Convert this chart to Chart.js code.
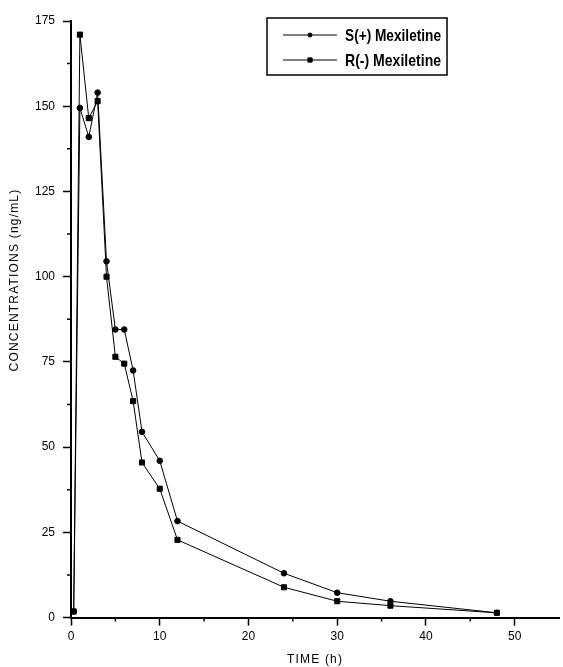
<!DOCTYPE html>
<html>
<head>
<script src="https://cdn.jsdelivr.net/npm/chart.js@4.4.1/dist/chart.umd.min.js"></script>
<style>
  body { margin: 0; background: #fff; }
</style>
</head>
<body>
<canvas id="chart" width="563" height="667"></canvas>
<script>
// sampling times (h)
const time = [0.3, 1, 2, 3, 4, 5, 6, 7, 8, 10, 12, 24, 30, 36, 48];
// S(+) and R(-) concentrations (ng/mL)
const sPlus = [1.8, 149.5, 141, 154, 104.5, 84.5, 84.5, 72.5, 54.5, 46, 28.3, 13, 7.3, 4.8, 1.4];
const rMinus = [1.8, 171, 146.5, 151.5, 100, 76.5, 74.5, 63.5, 45.5, 37.8, 22.8, 8.9, 4.8, 3.5, 1.4];
const seriesNames = ['S(+) Mexiletine', 'R(-) Mexiletine'];
const xLabelTicks = [0, 10, 20, 30, 40, 50];
const yLabelTicks = [0, 25, 50, 75, 100, 125, 150, 175];
const xTitle = 'TIME (h)';
const yTitle = 'CONCENTRATIONS (ng/mL)';

const toPoints = vals => vals.map((v, i) => ({ x: time[i], y: v }));

// short minor ticks between the labelled ones
const minorTicks = {
  id: 'minorTicks',
  afterDraw(chart) {
    const ctx = chart.ctx;
    const xs = chart.scales.x, ys = chart.scales.y;
    ctx.save();
    ctx.strokeStyle = '#000';
    ctx.lineWidth = 1.5;
    ctx.beginPath();
    for (let v = 5; v < xs.max; v += 10) {
      const px = xs.getPixelForValue(v);
      ctx.moveTo(px, ys.bottom);
      ctx.lineTo(px, ys.bottom + 4);
    }
    for (let v = 12.5; v < ys.max; v += 25) {
      const py = ys.getPixelForValue(v);
      ctx.moveTo(xs.left, py);
      ctx.lineTo(xs.left - 4, py);
    }
    ctx.stroke();
    ctx.restore();
  }
};

// letter-spaced axis titles (the scan has wide spacing)
const axisTitles = {
  id: 'axisTitles',
  afterDraw(chart) {
    const ctx = chart.ctx;
    const a = chart.chartArea;
    ctx.save();
    ctx.fillStyle = '#000';
    ctx.font = '12px "Liberation Sans", Arial, sans-serif';
    ctx.letterSpacing = '1.2px';
    ctx.textAlign = 'center';
    ctx.textBaseline = 'middle';
    ctx.fillText(xTitle, (a.left + a.right) / 2, 660);
    ctx.translate(15, 280);
    ctx.rotate(-Math.PI / 2);
    ctx.fillText(yTitle, 0, 0);
    ctx.restore();
  }
};

// boxed legend inside the plot, like the original figure
const boxLegend = {
  id: 'boxLegend',
  afterDraw(chart) {
    const ctx = chart.ctx;
    const a = chart.chartArea;
    const x = a.left + 196, y = a.top - 3, w = 180, h = 57;
    ctx.save();
    ctx.strokeStyle = '#000';
    ctx.lineWidth = 1.5;
    ctx.strokeRect(x, y, w, h);
    chart.data.datasets.forEach((ds, i) => {
      const cy = y + 17 + i * 25;
      ctx.lineWidth = 1;
      ctx.beginPath();
      ctx.moveTo(x + 16, cy);
      ctx.lineTo(x + 70, cy);
      ctx.stroke();
      ctx.fillStyle = '#000';
      Chart.helpers.drawPoint(ctx, { pointStyle: ds.pointStyle, radius: ds.pointStyle === 'rect' ? 3 : 2, borderWidth: 1 }, x + 43, cy);
      ctx.font = 'bold 17px "Liberation Sans", Arial, sans-serif';
      ctx.textBaseline = 'middle';
      const tw = ctx.measureText(ds.label).width;
      ctx.save();
      ctx.translate(x + 78, cy + 1);
      ctx.scale(96 / tw, 1);
      ctx.fillText(ds.label, 0, 0);
      ctx.restore();
    });
    ctx.restore();
  }
};

const tickFont = { family: '"Liberation Sans", Arial, sans-serif', size: 12 };

new Chart(document.getElementById('chart'), {
  type: 'scatter',
  data: {
    datasets: [
      {
        label: seriesNames[0],
        data: toPoints(sPlus),
        showLine: true,
        borderColor: '#000',
        backgroundColor: '#000',
        borderWidth: 1,
        pointStyle: 'circle',
        pointRadius: 2.8
      },
      {
        label: seriesNames[1],
        data: toPoints(rMinus),
        showLine: true,
        borderColor: '#000',
        backgroundColor: '#000',
        borderWidth: 1,
        pointStyle: 'rect',
        pointRadius: 3.6
      }
    ]
  },
  options: {
    responsive: false,
    animation: false,
    layout: { autoPadding: false, padding: { top: 21, right: 1, left: 27, bottom: 19 } },
    plugins: {
      legend: { display: false },
      tooltip: { enabled: false }
    },
    scales: {
      x: {
        type: 'linear',
        min: 0,
        max: 55,
        ticks: {
          stepSize: 5,
          color: '#000',
          font: tickFont,
          padding: 4,
          maxRotation: 0,
          autoSkip: false,
          callback: v => xLabelTicks.includes(v) ? String(v) : ''
        },
        grid: {
          drawOnChartArea: false,
          tickLength: 8,
          tickWidth: 1.5,
          tickColor: c => xLabelTicks.includes(c.tick.value) ? '#000' : 'rgba(0,0,0,0)'
        },
        border: { color: '#000', width: 2 }
      },
      y: {
        min: 0,
        max: 175,
        ticks: {
          stepSize: 12.5,
          color: '#000',
          font: tickFont,
          padding: 8,
          autoSkip: false,
          callback: v => yLabelTicks.includes(v) ? String(v) : ''
        },
        grid: {
          drawOnChartArea: false,
          tickLength: 8,
          tickWidth: 1.5,
          tickColor: c => yLabelTicks.includes(c.tick.value) ? '#000' : 'rgba(0,0,0,0)'
        },
        border: { color: '#000', width: 2 }
      }
    }
  },
  plugins: [minorTicks, axisTitles, boxLegend]
});
</script>
</body>
</html>
